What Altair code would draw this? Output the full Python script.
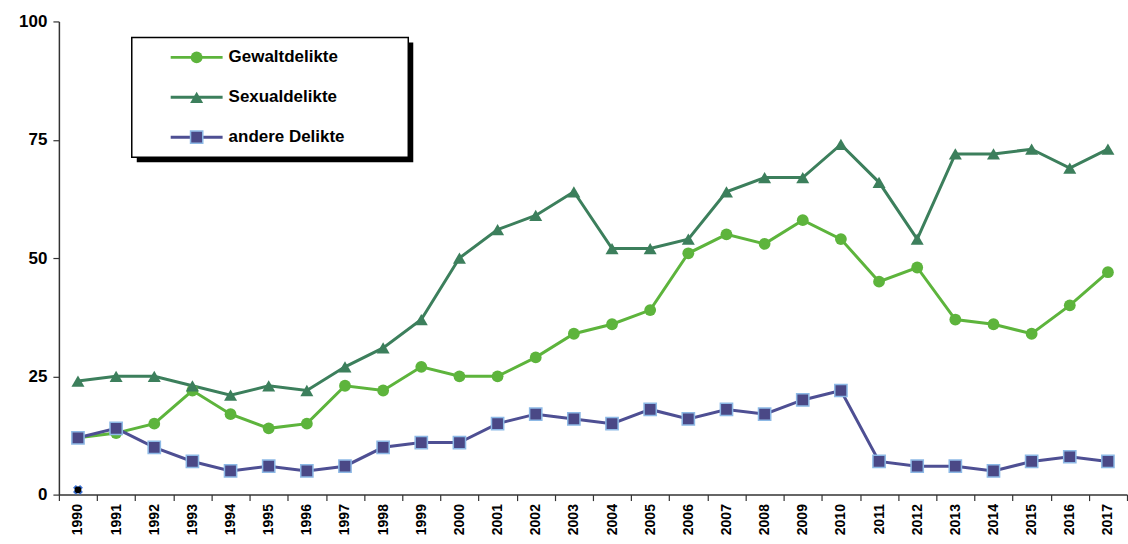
import altair as alt
import pandas as pd

years = ["1990", "1991", "1992", "1993", "1994", "1995", "1996", "1997", "1998", "1999",
         "2000", "2001", "2002", "2003", "2004", "2005", "2006", "2007", "2008", "2009",
         "2010", "2011", "2012", "2013", "2014", "2015", "2016", "2017"]
series_names = ["Gewaltdelikte", "Sexualdelikte", "andere Delikte"]
gewalt = [12, 13, 15, 22, 17, 14, 15, 23, 22, 27, 25, 25, 29, 34, 36, 39, 51, 55, 53, 58,
          54, 45, 48, 37, 36, 34, 40, 47]
sexual = [24, 25, 25, 23, 21, 23, 22, 27, 31, 37, 50, 56, 59, 64, 52, 52, 54, 64, 67, 67,
          74, 66, 54, 72, 72, 73, 69, 73]
andere = [12, 14, 10, 7, 5, 6, 5, 6, 10, 11, 11, 15, 17, 16, 15, 18, 16, 18, 17, 20,
          22, 7, 6, 6, 5, 7, 8, 7]
stray_year = ["1990"]
stray_value = [1]

rows = []
for name, vals in zip(series_names, [gewalt, sexual, andere]):
    for y, v in zip(years, vals):
        rows.append({"year": y, "series": name, "value": v})
df = pd.DataFrame(rows)
stray_df = pd.DataFrame({"year": stray_year, "value": stray_value})
leg_df = pd.DataFrame({"series": series_names})

colors = ["#5DB43C", "#3C7F5C", "#4E4F93"]
FONT = "Liberation Sans"

xscale = alt.Scale(type="band", paddingInner=0, paddingOuter=0, domain=years)
yscale = alt.Scale(domain=[0, 100], nice=False)
X = alt.X("year:O", scale=xscale,
          axis=alt.Axis(title=None, labelAngle=-90, tickBand="extent", labelFontSize=14,
                        labelFontWeight="bold", tickSize=6, labelPadding=3))
Y = alt.Y("value:Q", scale=yscale,
          axis=alt.Axis(title=None, values=[0, 25, 50, 75, 100], labelFontSize=17,
                        labelFontWeight="bold", tickSize=6, labelPadding=6, grid=False))
cscale = alt.Scale(domain=series_names, range=colors)

base = alt.Chart(df)

dummy = pd.DataFrame({"a": [0]})
shadow = alt.Chart(dummy).mark_rect(color="black").encode(
    x=alt.value(78), x2=alt.value(355), y=alt.value(21), y2=alt.value(141))
box = alt.Chart(dummy).mark_rect(fill="white", stroke="black", strokeWidth=1.5).encode(
    x=alt.value(73), x2=alt.value(350), y=alt.value(16), y2=alt.value(136))

lines = base.mark_line(strokeWidth=3).encode(
    x=X, y=Y, stroke=alt.Stroke("series:N", scale=cscale, legend=None))


def marker(chart, name, **enc):
    c = chart.transform_filter(alt.datum.series == name)
    if name == "Gewaltdelikte":
        m = c.mark_point(shape="circle", filled=True, size=140, opacity=1, color=colors[0])
    elif name == "Sexualdelikte":
        m = c.mark_point(shape="triangle-up", filled=True, size=170, opacity=1, color=colors[1])
    else:
        m = c.mark_point(shape="square", filled=True, size=150, opacity=1, fill="#4A4886",
                         stroke="#8DB9E6", strokeWidth=1.5)
    return m.encode(**enc)


pts = [marker(base, n, x=X, y=Y) for n in series_names]

stray_x = alt.Chart(stray_df).mark_point(shape="cross", angle=45, filled=True, size=100,
                                         color="#3A6FD0", opacity=1).encode(x=X, y=Y)
stray_dot = alt.Chart(stray_df).mark_point(shape="circle", filled=True, size=45,
                                           color="black", opacity=1).encode(x=X, y=Y)

main = alt.layer(shadow, box, lines, *pts, stray_x, stray_dot)

# legend drawn inside the framed box, rows placed by an ordinal scale
LY = alt.Y("series:N", scale=alt.Scale(type="point", domain=series_names, range=[36, 116], padding=0),
           axis=None)
leg_base = alt.Chart(leg_df)
leg_lines = leg_base.mark_rule(strokeWidth=3).encode(
    x=alt.value(112), x2=alt.value(164), y=LY,
    color=alt.Color("series:N", scale=cscale, legend=None))
leg_marks = [marker(leg_base, n, x=alt.value(138), y=LY) for n in series_names]
leg_text = leg_base.mark_text(align="left", baseline="middle", font=FONT, fontSize=17,
                              fontWeight="bold", color="black").encode(
    x=alt.value(170), y=LY, text="series:N")
legend = alt.layer(leg_lines, *leg_marks, leg_text)

chart = alt.layer(main, legend).resolve_scale(y="independent").properties(
    width=1070, height=474,
    padding={"left": 18, "top": 12, "right": 0, "bottom": 4},
    background="white",
).configure_view(stroke=None).configure_axis(
    labelFont=FONT, labelColor="black", domainColor="#333333", tickColor="#333333",
    domainWidth=1.5, tickWidth=1.2,
)

chart.save("out.html", embed_options={"renderer": "svg", "actions": False})
